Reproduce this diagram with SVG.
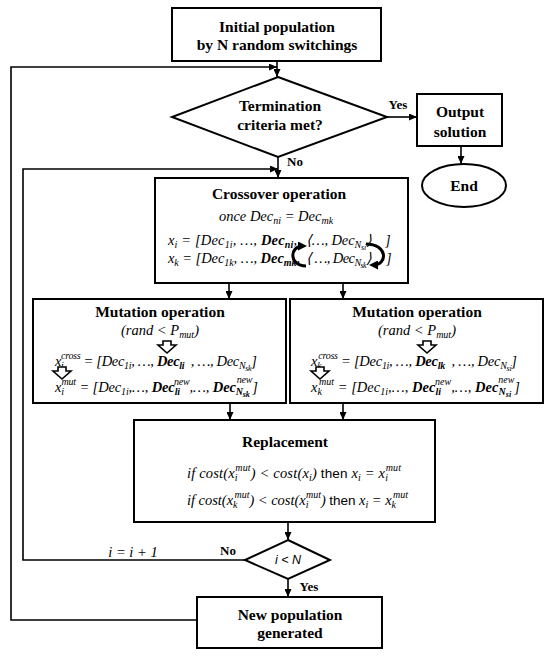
<svg xmlns="http://www.w3.org/2000/svg" width="550" height="656" viewBox="0 0 550 656">
<defs>
<style>
.box{fill:#fff;stroke:#000;stroke-width:2}
.ln{fill:none;stroke:#000;stroke-width:1.6}
.t{font-family:"Liberation Serif","Times New Roman",serif;font-weight:bold;font-size:15.5px;text-anchor:middle;fill:#000}
.lb{font-family:"Liberation Serif","Times New Roman",serif;font-weight:bold;font-size:13px;text-anchor:middle;fill:#000}
.m{font-family:"Liberation Serif","Times New Roman",serif;font-style:italic;font-size:14.5px;fill:#000}
.s{font-size:10px}
.ss{font-size:8px}
.b{font-weight:bold}
.u{font-style:normal;font-family:"Liberation Sans",Arial,sans-serif;font-size:13.5px}
.ui{font-style:italic;font-family:"Liberation Sans",Arial,sans-serif;font-size:12.5px;text-anchor:middle;fill:#000}
.hol{fill:#fff;stroke:#000;stroke-width:1.6}
.sw{fill:none;stroke:#000;stroke-width:3}
</style>
<marker id="ah" markerWidth="8" markerHeight="7" refX="8" refY="3.5" orient="auto" markerUnits="userSpaceOnUse"><path d="M0,0 L8,3.5 L0,7 z" fill="#000"/></marker>
<marker id="ah2" markerWidth="9" markerHeight="9" refX="5" refY="4.5" orient="auto" markerUnits="userSpaceOnUse"><path d="M0,0 L9,4.5 L0,9 z" fill="#000"/></marker>
</defs>
<rect width="550" height="656" fill="#fff"/>

<g id="connectors">
<path class="ln" d="M277,61 V77" marker-end="url(#ah)"/>
<path class="ln" d="M197,620 H11 V67 H277" marker-end="url(#ah)"/>
<path class="ln" d="M387,117 H417" marker-end="url(#ah)"/>
<path class="ln" d="M461,146 V164" marker-end="url(#ah)"/>
<path class="ln" d="M278,157 V178" marker-end="url(#ah)"/>
<path class="ln" d="M245,560 H23 V169 H278" marker-end="url(#ah)"/>
<path class="ln" d="M229,283 V299" marker-end="url(#ah)"/>
<path class="ln" d="M343,283 V299" marker-end="url(#ah)"/>
<path class="ln" d="M230,403 V420" marker-end="url(#ah)"/>
<path class="ln" d="M343,403 V420" marker-end="url(#ah)"/>
<path class="ln" d="M288,522 V540" marker-end="url(#ah)"/>
<path class="ln" d="M288,579 V597" marker-end="url(#ah)"/>
<text class="lb" x="398" y="109">Yes</text>
<text class="lb" x="295" y="166">No</text>
<text class="lb" x="228" y="555">No</text>
<text class="lb" x="309" y="591">Yes</text>
<text class="m" x="133" y="557" text-anchor="middle" font-size="13">i = i + 1</text>
</g>

<g id="init">
<rect class="box" x="172" y="8" width="209" height="53"/>
<text class="t" x="277" y="32">Initial population</text>
<text class="t" x="277" y="50">by N random switchings</text>
</g>

<g id="termination">
<polygon class="box" points="278,77 387,117 278,157 172,117"/>
<text class="t" x="280" y="111">Termination</text>
<text class="t" x="280" y="130">criteria met?</text>
</g>

<g id="output">
<rect class="box" x="417" y="94" width="85" height="52"/>
<text class="t" x="460" y="117">Output</text>
<text class="t" x="460" y="137">solution</text>
</g>

<g id="end">
<ellipse class="box" cx="464" cy="185.5" rx="42" ry="21.5"/>
<text class="t" x="464" y="191">End</text>
</g>

<g id="crossover">
<rect class="box" x="155" y="178" width="253" height="105"/>
<text class="t" x="279" y="199">Crossover operation</text>
<text class="m" x="276" y="221" text-anchor="middle">once Dec<tspan class="s" dy="3">ni</tspan><tspan dy="-3"> = Dec</tspan><tspan class="s" dy="3">mk</tspan></text>
<text class="m" x="168" y="245" textLength="129">x<tspan class="s" dy="3">i</tspan><tspan dy="-3"> = [Dec</tspan><tspan class="s" dy="3">1i</tspan><tspan dy="-3">, …, </tspan><tspan class="b">Dec</tspan><tspan class="s b" dy="3">ni</tspan><tspan dy="-3">,</tspan></text>
<text class="m" x="306" y="245" textLength="66">⟨…, Dec<tspan class="s" dy="3">N</tspan><tspan class="ss" dy="2">si</tspan><tspan dy="-5">⟩</tspan></text>
<text class="m" x="385" y="245">]</text>
<text class="m" x="168" y="263" textLength="132">x<tspan class="s" dy="3">k</tspan><tspan dy="-3"> = [Dec</tspan><tspan class="s" dy="3">1k</tspan><tspan dy="-3">, …, </tspan><tspan class="b">Dec</tspan><tspan class="s b" dy="3">mk</tspan><tspan dy="-3">,</tspan></text>
<text class="m" x="306" y="263" textLength="66">⟨ …, Dec<tspan class="s" dy="3">N</tspan><tspan class="ss" dy="2">sk</tspan><tspan dy="-5">⟩</tspan></text>
<text class="m" x="386" y="263">]</text>
<path class="sw" d="M306,266 C289,266 289,246 303,246" marker-end="url(#ah2)"/>
<path class="sw" d="M366,244 C388,244 388,265 373,265" marker-end="url(#ah2)"/>
</g>

<g id="mutation-left">
<rect class="box" x="33" y="299" width="253" height="104"/>
<text class="t" x="160" y="317">Mutation operation</text>
<text class="m" x="160" y="335" text-anchor="middle">(rand &lt; P<tspan class="s" dy="3">mut</tspan><tspan dy="-3">)</tspan></text>
<polygon class="hol" points="163,341 171,341 171,345 176,345 167,353 158,345 163,345"/>
<text class="m" x="55" y="366" textLength="202">x<tspan class="s" dy="3">i</tspan><tspan class="s" dx="-2.5" dy="-10">cross</tspan><tspan dy="7"> = [Dec</tspan><tspan class="s" dy="3">1i</tspan><tspan dy="-3">, …, </tspan><tspan class="b">Dec</tspan><tspan class="s b" dy="3">li</tspan><tspan dy="-3">&#160;&#160;, …, Dec</tspan><tspan class="s" dy="3">N</tspan><tspan class="ss" dy="2">sk</tspan><tspan dy="-5">]</tspan></text>
<polygon class="hol" points="58,367 66,367 66,371 71,371 62,379 53,371 58,371"/>
<text class="m" x="55" y="392" textLength="203">x<tspan class="s" dy="3">i</tspan><tspan class="s" dx="-2.5" dy="-10">mut</tspan><tspan dy="7"> = [Dec</tspan><tspan class="s" dy="3">1i</tspan><tspan dy="-3">,…, </tspan><tspan class="b">Dec</tspan><tspan class="s b" dy="3">li</tspan><tspan class="s" dx="-6" dy="-10">new</tspan><tspan dy="7">,…, </tspan><tspan class="b">Dec</tspan><tspan class="s b" dy="3">N</tspan><tspan class="ss b" dy="2">sk</tspan><tspan class="s" dx="-13" dy="-14">new</tspan><tspan dy="9">]</tspan></text>
</g>

<g id="mutation-right">
<rect class="box" x="290" y="299" width="253" height="104"/>
<text class="t" x="417" y="317">Mutation operation</text>
<text class="m" x="417" y="335" text-anchor="middle">(rand &lt; P<tspan class="s" dy="3">mut</tspan><tspan dy="-3">)</tspan></text>
<polygon class="hol" points="423,341 431,341 431,345 436,345 427,353 418,345 423,345"/>
<text class="m" x="311" y="366" textLength="206">x<tspan class="s" dy="3">k</tspan><tspan class="s" dx="-3" dy="-10">cross</tspan><tspan dy="7"> = [Dec</tspan><tspan class="s" dy="3">1i</tspan><tspan dy="-3">, …, </tspan><tspan class="b">Dec</tspan><tspan class="s b" dy="3">lk</tspan><tspan dy="-3">&#160;&#160;, …, Dec</tspan><tspan class="s" dy="3">N</tspan><tspan class="ss" dy="2">si</tspan><tspan dy="-5">]</tspan></text>
<polygon class="hol" points="316,367 324,367 324,371 329,371 320,379 311,371 316,371"/>
<text class="m" x="311" y="392" textLength="209">x<tspan class="s" dy="3">k</tspan><tspan class="s" dx="-3" dy="-10">mut</tspan><tspan dy="7"> = [Dec</tspan><tspan class="s" dy="3">1i</tspan><tspan dy="-3">,…, </tspan><tspan class="b">Dec</tspan><tspan class="s b" dy="3">li</tspan><tspan class="s" dx="-6" dy="-10">new</tspan><tspan dy="7">,…, </tspan><tspan class="b">Dec</tspan><tspan class="s b" dy="3">N</tspan><tspan class="ss b" dy="2">si</tspan><tspan class="s" dx="-13" dy="-14">new</tspan><tspan dy="9">]</tspan></text>
</g>

<g id="replacement">
<rect class="box" x="134" y="420" width="301" height="102"/>
<text class="t" x="285" y="447">Replacement</text>
<text class="m" x="187" y="478" textLength="214">if cost(x<tspan class="s" dy="3">i</tspan><tspan class="s" dx="-2.5" dy="-10">mut</tspan><tspan dy="7">) &lt; cost(x</tspan><tspan class="s" dy="3">i</tspan><tspan dy="-3">) </tspan><tspan class="u">then</tspan><tspan> x</tspan><tspan class="s" dy="3">i</tspan><tspan dy="-3"> = x</tspan><tspan class="s" dy="3">i</tspan><tspan class="s" dx="-2.5" dy="-10">mut</tspan></text>
<text class="m" x="187" y="505" textLength="221">if cost(x<tspan class="s" dy="3">k</tspan><tspan class="s" dx="-3" dy="-10">mut</tspan><tspan dy="7">) &lt; cost(x</tspan><tspan class="s" dy="3">i</tspan><tspan class="s" dx="-2.5" dy="-10">mut</tspan><tspan dy="7">) </tspan><tspan class="u">then</tspan><tspan> x</tspan><tspan class="s" dy="3">i</tspan><tspan dy="-3"> = x</tspan><tspan class="s" dy="3">k</tspan><tspan class="s" dx="-3" dy="-10">mut</tspan></text>
</g>

<g id="counter-check">
<polygon class="box" points="288,540 330,560 288,579 245,560"/>
<text class="ui" x="288" y="564">i &lt; N</text>
</g>

<g id="new-population">
<rect class="box" x="197" y="597" width="185" height="51"/>
<text class="t" x="290" y="620">New population</text>
<text class="t" x="290" y="638">generated</text>
</g>
</svg>
